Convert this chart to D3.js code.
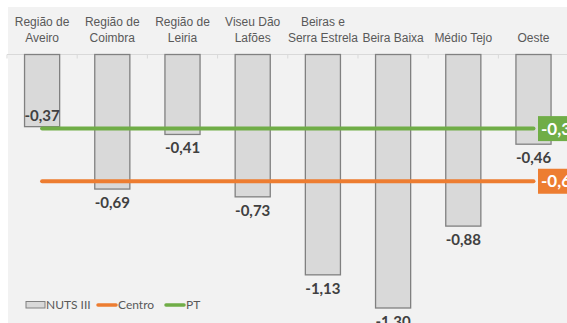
<!DOCTYPE html>
<html>
<head>
<meta charset="utf-8">
<script src="https://cdn.jsdelivr.net/npm/d3@7"></script>
<style>
	html, body { margin: 0; padding: 0; background: #fff; }
	svg { display: block; }
</style>
</head>
<body>
<script>
const width = 567,
	height = 323

// data
const categories = [
	["Região de", "Aveiro"],
	["Região de", "Coimbra"],
	["Região de", "Leiria"],
	["Viseu Dão", "Lafões"],
	["Beiras e", "Serra Estrela"],
	["Beira Baixa"],
	["Médio Tejo"],
	["Oeste"]
]
const nutsValues = [-0.37, -0.69, -0.41, -0.73, -1.13, -1.30, -0.88, -0.46]
const nutsLabels = ["-0,37", "-0,69", "-0,41", "-0,73", "-1,13", "-1.30", "-0,88", "-0,46"]
const centroValue = -0.65
const ptValue = -0.38
const lineLabels = { centro: "-0,65", pt: "-0,38" }

const colors = {
	bg: '#f2f2f2',
	barFill: '#d9d9d9',
	barStroke: '#808080',
	centro: '#ed7d31',
	pt: '#70ad47',
	text: '#595959',
	label: '#404040'
}

const x = d3.scaleBand()
	.domain(d3.range(categories.length))
	.range([7, 568.6])
	.paddingInner(0.5)
	.paddingOuter(0.25)

const y = d3.scaleLinear()
	.domain([0, -1.3])
	.range([54.5, 308])

const svg = d3.select("body")
	.append("svg")
	.attr("width", width)
	.attr("height", height)

svg.append("rect")
	.attr("x", 8)
	.attr("y", 7)
	.attr("width", width - 8)
	.attr("height", height - 7)
	.attr("fill", colors.bg)

// zero axis with ticks between categories
const step = x.step()
svg.append("line")
	.attr("x1", 7).attr("x2", width)
	.attr("y1", y(0)).attr("y2", y(0))
	.attr("stroke", "#d9d9d9")
	.attr("stroke-width", 1)

svg.append("g")
	.selectAll("line")
	.data(d3.range(categories.length + 1))
	.join("line")
	.attr("x1", i => x(0) - step * 0.25 + i * step)
	.attr("x2", i => x(0) - step * 0.25 + i * step)
	.attr("y1", y(0))
	.attr("y2", y(0) + 4)
	.attr("stroke", "#d9d9d9")

// bars
svg.append("g")
	.selectAll("rect")
	.data(nutsValues)
	.join("rect")
	.attr("x", (d, i) => x(i))
	.attr("y", y(0))
	.attr("width", x.bandwidth())
	.attr("height", d => y(d) - y(0))
	.attr("fill", colors.barFill)
	.attr("stroke", colors.barStroke)
	.attr("stroke-width", 1.3)

// category labels (bottom aligned)
const catG = svg.append("g")
	.attr("font-family", "'Liberation Sans', Arial, sans-serif")
	.attr("font-size", 12)
	.attr("fill", colors.text)
	.attr("text-anchor", "middle")

categories.forEach((lines, i) => {
	const cx = x(i) + x.bandwidth() / 2
	lines.forEach((t, j) => {
		catG.append("text")
			.attr("x", cx)
			.attr("y", 42 - (lines.length - 1 - j) * 16)
			.text(t)
	})
})

// series lines
const lineX1 = x(0) + x.bandwidth() / 2
const lineX2 = x(categories.length - 1) + x.bandwidth() / 2

const series = [
	{ key: "centro", value: centroValue, color: colors.centro },
	{ key: "pt", value: ptValue, color: colors.pt }
]

series.forEach(s => {
	svg.append("line")
		.attr("x1", lineX1).attr("x2", lineX2)
		.attr("y1", y(s.value)).attr("y2", y(s.value))
		.attr("stroke", s.color)
		.attr("stroke-width", 4)
		.attr("stroke-linecap", "round")
})

// bar value labels (drawn above the lines)
svg.append("g")
	.attr("font-family", "Lato, sans-serif")
	.attr("font-size", 15)
	.attr("font-weight", "bold")
	.attr("fill", colors.label)
	.attr("text-anchor", "middle")
	.selectAll("text")
	.data(nutsValues)
	.join("text")
	.attr("x", (d, i) => x(i) + x.bandwidth() / 2)
	.attr("y", (d, i) => i === 0 ? y(d) - 6 : y(d) + 19)
	.text((d, i) => nutsLabels[i])

// end-of-line label boxes
series.forEach(s => {
	const g = svg.append("g")
		.attr("transform", `translate(538,${y(s.value)})`)
	g.append("rect")
		.attr("x", 0)
		.attr("y", -12.5)
		.attr("width", 46)
		.attr("height", 25)
		.attr("fill", s.color)
	g.append("text")
		.attr("x", 3)
		.attr("y", 6)
		.attr("font-family", "Lato, sans-serif")
		.attr("font-size", 17)
		.attr("font-weight", "bold")
		.attr("fill", "#fff")
		.text(lineLabels[s.key])
})

// legend
const legend = svg.append("g")
	.attr("font-family", "Lato, sans-serif")
	.attr("font-size", 12)
	.attr("fill", colors.text)

legend.append("rect")
	.attr("x", 26).attr("y", 301.5)
	.attr("width", 19).attr("height", 6.5)
	.attr("fill", colors.barFill)
	.attr("stroke", colors.barStroke)
legend.append("text").attr("x", 46).attr("y", 309).text("NUTS III")

legend.append("line")
	.attr("x1", 98).attr("x2", 116)
	.attr("y1", 305).attr("y2", 305)
	.attr("stroke", colors.centro).attr("stroke-width", 3.5)
	.attr("stroke-linecap", "round")
legend.append("text").attr("x", 118).attr("y", 309).text("Centro")

legend.append("line")
	.attr("x1", 166).attr("x2", 184)
	.attr("y1", 305).attr("y2", 305)
	.attr("stroke", colors.pt).attr("stroke-width", 3.5)
	.attr("stroke-linecap", "round")
legend.append("text").attr("x", 186).attr("y", 309).text("PT")
</script>
</body>
</html>
